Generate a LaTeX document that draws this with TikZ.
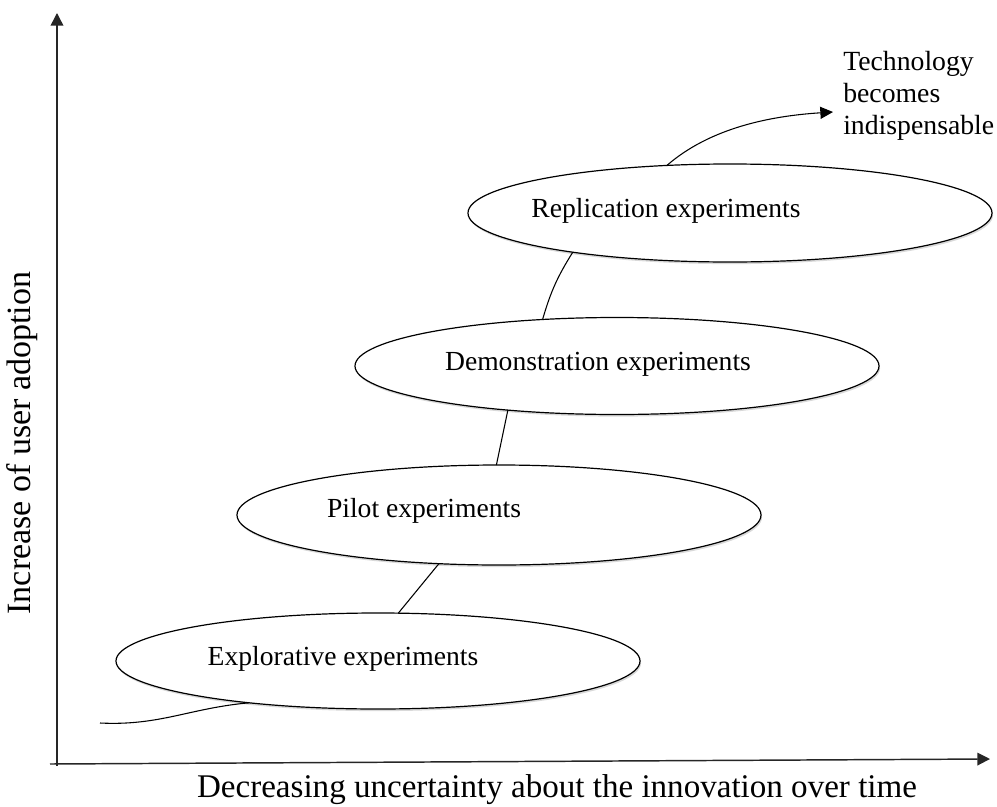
\documentclass[tikz,border=0pt]{standalone}
\usepackage{fontspec}
\setmainfont{Liberation Serif}
\usetikzlibrary{shapes.geometric,arrows.meta,shadows}
\begin{document}
\begin{tikzpicture}[x=0.75pt,y=-0.75pt,
  stage/.style={ellipse,draw=black,line width=0.9pt,fill=white,inner sep=0pt,outer sep=0pt,
    minimum width=393pt,drop shadow={shadow xshift=0.8pt,shadow yshift=-1.6pt,opacity=0.3}},
  lbl/.style={font=\fontsize{20.7}{24}\selectfont,inner sep=0pt},
  axis/.style={line width=1.1pt,draw=black!85,-{Triangle[length=9.5pt,width=9.5pt]}},
  link/.style={line width=0.8pt}]
\useasboundingbox (0,0) rectangle (997,807);
% axes
\coordinate (yo) at (57,766);
\coordinate (ytop) at (57,13);
\coordinate (xo) at (50,764);
\coordinate (xend) at (990,759);
\draw[axis] (yo) -- (ytop);
\draw[axis] (xo) -- (xend);
\node[font=\fontsize{25.5}{30}\selectfont,rotate=90,inner sep=0pt] (ylab) at (22,443) {Increase of user adoption};
\node[font=\fontsize{24.8}{28}\selectfont,inner sep=0pt] (xlab) at (557,790) {Decreasing uncertainty about the innovation over time};
% stages
\node[stage,minimum height=72pt] (ex) at (378,661) {};
\node[stage,minimum height=75pt] (pi) at (499,515) {};
\node[stage,minimum height=72.75pt] (de) at (617,366) {};
\node[stage,minimum height=73.5pt] (re) at (730,213) {};
\node[lbl] (ext) at (343,659) {Explorative experiments};
\node[lbl] (pit) at (424,511) {Pilot experiments};
\node[lbl] (det) at (598,364) {Demonstration experiments};
\node[lbl] (ret) at (666,211) {Replication experiments};
% connectors
\coordinate (start) at (100,723);
\draw[link] (start) .. controls (160,726) and (190,708) .. (ex.198.6);
\draw[link] (ex.67.2) -- (pi.219.5);
\draw[link] (pi.93.4) -- (de.202.9);
\draw[link] (de.148.1) to[bend left=8] (re.194.4);
\coordinate (tip) at (833,112);
\draw[link,-{Triangle[length=9.5pt,width=9pt]}] (re.143.4) .. controls (710,128) and (770,116) .. (tip);
\node[font=\fontsize{20.8}{24}\selectfont,align=left,anchor=west,inner sep=0pt] (tech) at (843,96) {Technology\\becomes\\indispensable};
\end{tikzpicture}
\end{document}
